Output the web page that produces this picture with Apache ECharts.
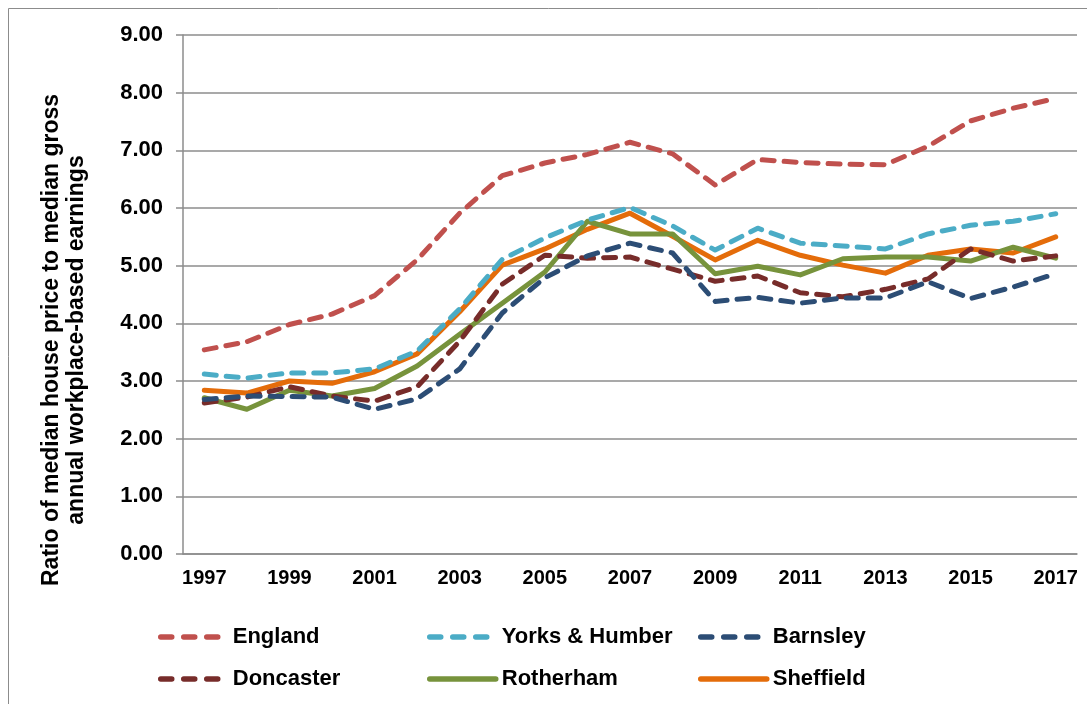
<!DOCTYPE html>
<html>
<head>
<meta charset="utf-8">
<title>Affordability ratio</title>
<script src="https://cdn.jsdelivr.net/npm/echarts@6/dist/echarts.min.js"></script>
<style>
    html, body { margin: 0; padding: 0; background: #fff; }
    #main { width: 1087px; height: 704px; }
</style>
</head>
<body>
<div id="main"></div>
<script>
// 年份
var years = ['1997','1998','1999','2000','2001','2002','2003','2004','2005','2006','2007',
             '2008','2009','2010','2011','2012','2013','2014','2015','2016','2017'];

// 各地区数据
var england    = [3.54,3.68,3.98,4.16,4.48,5.10,5.91,6.56,6.78,6.93,7.14,6.94,6.40,6.84,6.79,6.76,6.75,7.07,7.51,7.73,7.90];
var yorks      = [3.12,3.05,3.14,3.14,3.21,3.52,4.25,5.11,5.48,5.79,6.01,5.69,5.27,5.65,5.39,5.34,5.29,5.55,5.70,5.77,5.90];
var barnsley   = [2.68,2.74,2.73,2.72,2.51,2.69,3.21,4.18,4.79,5.17,5.39,5.22,4.38,4.45,4.35,4.44,4.44,4.72,4.43,4.63,4.86];
var doncaster  = [2.62,2.72,2.90,2.74,2.65,2.90,3.69,4.68,5.18,5.13,5.15,4.94,4.73,4.82,4.53,4.46,4.59,4.77,5.29,5.08,5.17];
var rotherham  = [2.71,2.51,2.84,2.74,2.87,3.26,3.81,4.35,4.89,5.77,5.55,5.55,4.86,4.99,4.84,5.12,5.15,5.15,5.08,5.32,5.13];
var sheffield  = [2.84,2.79,3.00,2.96,3.16,3.47,4.20,5.01,5.29,5.63,5.91,5.51,5.10,5.44,5.18,5.01,4.87,5.18,5.29,5.22,5.50];

var names  = ['England','Yorks & Humber','Barnsley','Doncaster','Rotherham','Sheffield'];
var colors = ['#C0504D','#4BACC6','#2C4D75','#772C2A','#77933C','#E46C0A'];
var dashed = [true, true, true, true, false, false];
var values = [england, yorks, barnsley, doncaster, rotherham, sheffield];

var font = '"Liberation Sans", Arial, sans-serif';

var myChart = echarts.init(document.getElementById('main'));

// 生成系列
var series = names.map(function (name, i) {
    return {
        name: name,
        type: 'line',
        data: values[i],
        symbol: 'none',
        smooth: false,
        color: colors[i],
        lineStyle: {
            color: colors[i],
            width: 5,
            type: dashed[i] ? [12, 10] : 'solid',
            cap: 'round',
            join: 'round'
        },
        z: 10 - i
    };
});

// 图例: 两行三列
var legendPos = [
    { left: 153, top: 621 }, { left: 422, top: 621 }, { left: 693, top: 621 },
    { left: 153, top: 663 }, { left: 422, top: 663 }, { left: 693, top: 663 }
];
var legends = names.map(function (name, i) {
    return {
        data: [name],
        left: legendPos[i].left,
        top: legendPos[i].top,
        itemWidth: 66,
        itemHeight: 14,
        itemStyle: { opacity: 0 },
        lineStyle: {
            width: 5.5,
            cap: 'round',
            type: dashed[i] ? [11, 12] : 'solid'
        },
        textStyle: {
            fontFamily: font,
            fontWeight: 'bold',
            fontSize: 22,
            color: '#000',
            padding: [0, 0, 0, 1]
        }
    };
});

var options = {
    animation: false,
    backgroundColor: '#fff',
    grid: {
        left: 183,
        right: 10,
        top: 35,
        bottom: 150,
        containLabel: false
    },
    legend: legends,
    xAxis: {
        type: 'category',
        data: years,
        boundaryGap: true,
        axisLine: { lineStyle: { color: '#8c8c8c', width: 1.5 } },
        axisTick: { show: false },
        axisLabel: {
            interval: 1,
            margin: 14,
            fontFamily: font,
            fontWeight: 'bold',
            fontSize: 20,
            color: '#000'
        }
    },
    yAxis: {
        type: 'value',
        min: 0,
        max: 9,
        interval: 1,
        axisLine: { show: true, lineStyle: { color: '#8c8c8c', width: 1.5 } },
        axisTick: { show: true, length: 7, lineStyle: { color: '#8c8c8c', width: 1.5 } },
        splitLine: { lineStyle: { color: '#8c8c8c', width: 1.5 } },
        axisLabel: {
            margin: 20,
            formatter: function (v) { return v.toFixed(2); },
            fontFamily: font,
            fontWeight: 'bold',
            fontSize: 22,
            color: '#000'
        }
    },
    graphic: [
        // 外框
        {
            type: 'rect',
            shape: { x: 8.5, y: 8.5, width: 1100, height: 720 },
            style: { fill: 'none', stroke: '#8c8c8c', lineWidth: 1 },
            silent: true
        },
        // 纵轴标题
        {
            type: 'text',
            x: 64,
            y: 340,
            rotation: Math.PI / 2,
            style: {
                text: 'Ratio of median house price to median gross\nannual workplace-based earnings',
                font: 'bold 23px ' + font,
                fill: '#000',
                align: 'center',
                verticalAlign: 'middle',
                lineHeight: 25
            }
        }
    ],
    series: series
};

myChart.setOption(options);
</script>
</body>
</html>
